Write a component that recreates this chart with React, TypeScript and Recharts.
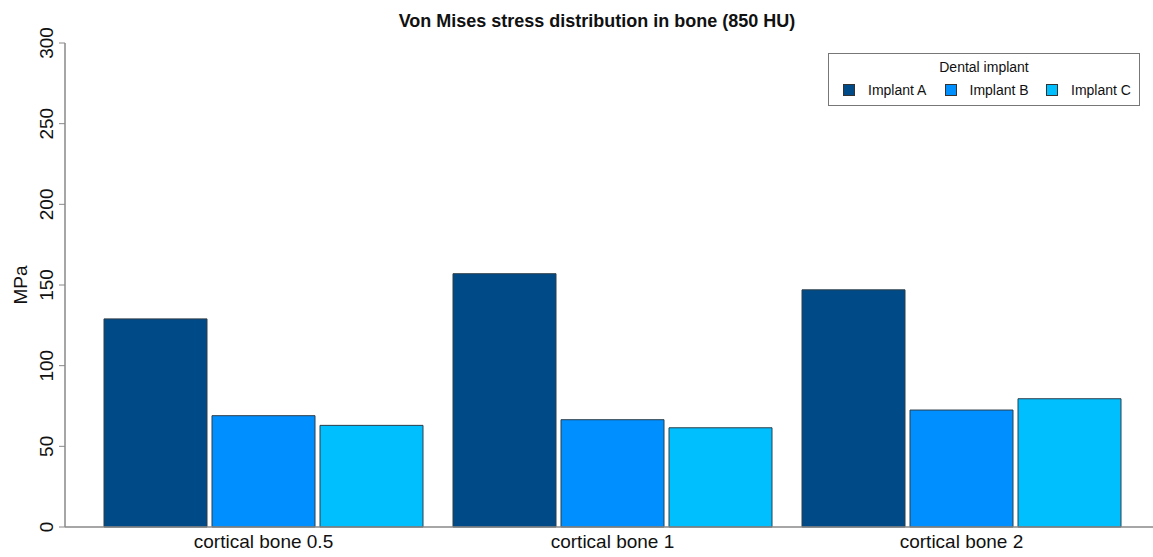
import React from 'react';
import { BarChart, Bar, XAxis, YAxis, Legend } from 'recharts';

const categories = ['cortical bone 0.5', 'cortical bone 1', 'cortical bone 2'];
const implantA = [129, 157, 147];
const implantB = [69, 66.5, 72.5];
const implantC = [63, 61.5, 79.5];
const yTicks = [0, 50, 100, 150, 200, 250, 300];

const seriesNames = ['Implant A', 'Implant B', 'Implant C'];
const colors = ['#004b87', '#008fff', '#00bfff'];

const data = categories.map((name, i) => ({
  name,
  a: implantA[i],
  b: implantB[i],
  c: implantC[i],
}));

const font = '"Liberation Sans", Arial, sans-serif';

// rotated y tick labels, like R's default las=0
const YTick = (props: any) => {
  const { x, y, payload } = props;
  const tx = x - 4;
  return (
    <text x={tx} y={y} transform={`rotate(-90, ${tx}, ${y})`} textAnchor="middle"
      fontSize={19} fontFamily={font} fill="#111">
      {payload.value}
    </text>
  );
};

const XTick = (props: any) => {
  const { x, y, payload } = props;
  return (
    <text x={x} y={y} dy="0.71em" textAnchor="middle" fontSize={19} fontFamily={font} fill="#111">
      {payload.value}
    </text>
  );
};

const MpaLabel = (props: any) => {
  const vb = props.viewBox || { x: 0, y: 43, width: 65, height: 484 };
  const tx = vb.x + 27;
  const ty = vb.y + vb.height / 2;
  return (
    <text x={tx} y={ty} transform={`rotate(-90, ${tx}, ${ty})`} textAnchor="middle"
      fontSize={19} fontFamily={font} fill="#111">
      MPa
    </text>
  );
};

const LegendBox = () => (
  <div style={{
    position: 'relative', width: 312, height: 53, boxSizing: 'border-box',
    border: '1px solid #777', background: '#fff', fontFamily: font, fontSize: 14, color: '#111',
  }}>
    <div style={{ position: 'absolute', top: 5, left: 0, width: '100%', textAlign: 'center' }}>
      Dental implant
    </div>
    {seriesNames.map((s, i) => (
      <div key={s} style={{ position: 'absolute', top: 28, left: 14 + i * 101.5, display: 'flex', alignItems: 'center' }}>
        <span style={{
          display: 'inline-block', width: 12, height: 12, boxSizing: 'border-box',
          background: colors[i], border: '1px solid #333', marginRight: 13,
        }} />
        <span>{s}</span>
      </div>
    ))}
  </div>
);

export default function App() {
  return (
    <div style={{ position: 'absolute', left: 0, top: 0, width: 1153, height: 557, background: '#fff' }}>
      <div style={{
        position: 'absolute', top: 11, left: 397, width: 400, textAlign: 'center',
        fontFamily: font, fontWeight: 'bold', fontSize: 18, color: '#111', whiteSpace: 'nowrap', zIndex: 2,
      }}>
        Von Mises stress distribution in bone (850 HU)
      </div>
      <BarChart width={1153} height={557} data={data}
        margin={{ top: 43, right: 0, bottom: 0, left: 0 }}
        barSize={103} barGap={5}>
        <XAxis dataKey="name" height={30} padding={{ left: 24, right: 17 }}
          axisLine={{ stroke: '#888', strokeWidth: 1.5 }} tickLine={false} tick={<XTick />} />
        <YAxis width={65} domain={[0, 300]} ticks={yTicks} type="number"
          axisLine={{ stroke: '#888', strokeWidth: 1.5 }} tickLine={{ stroke: '#888' }} tickSize={6}
          tick={<YTick />} label={<MpaLabel />} />
        <Legend layout="horizontal" verticalAlign="middle" align="center"
          wrapperStyle={{ top: 53, left: 828, width: 312, height: 53 }}
          content={() => <LegendBox />} />
        <Bar dataKey="a" name="Implant A" fill={colors[0]} stroke="#2d3e4a" strokeWidth={1} isAnimationActive={false} />
        <Bar dataKey="b" name="Implant B" fill={colors[1]} stroke="#2d3e4a" strokeWidth={1} isAnimationActive={false} />
        <Bar dataKey="c" name="Implant C" fill={colors[2]} stroke="#2d3e4a" strokeWidth={1} isAnimationActive={false} />
      </BarChart>
    </div>
  );
}
